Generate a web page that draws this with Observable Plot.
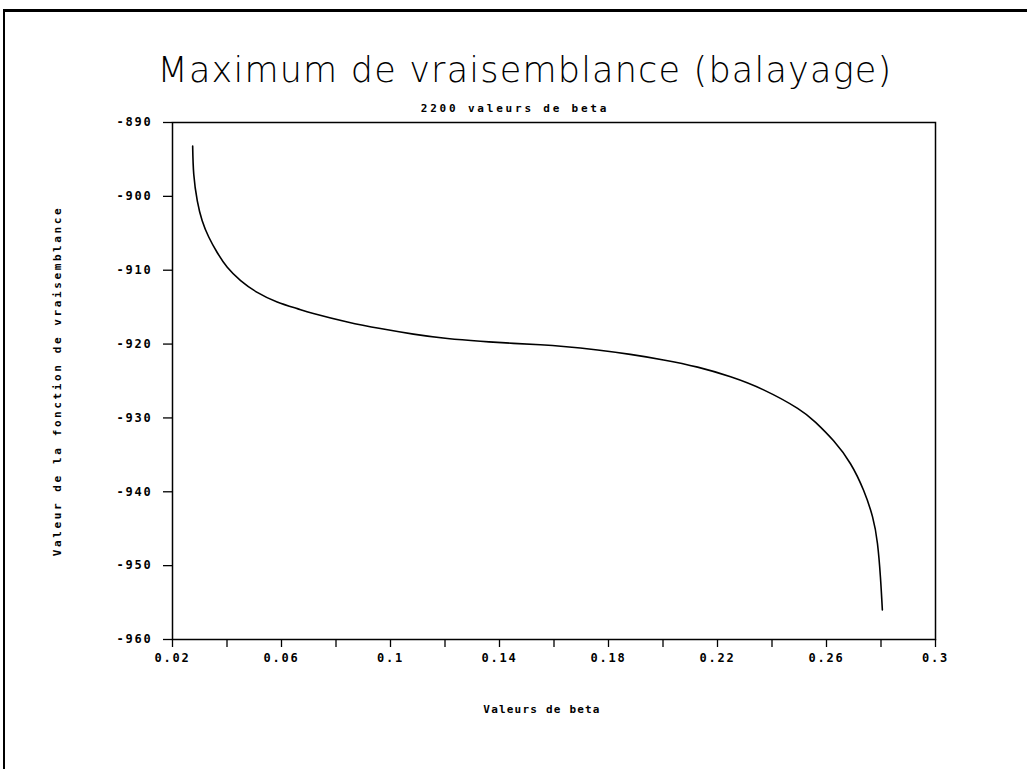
<!DOCTYPE html>
<html>
<head>
<meta charset="utf-8">
<script src="https://cdn.jsdelivr.net/npm/d3@7"></script>
<script src="https://cdn.jsdelivr.net/npm/@observablehq/plot@0.6"></script>
<style>
  html, body { margin: 0; padding: 0; background: #fff; }
  #page { position: relative; width: 1027px; height: 769px; overflow: hidden; background: #fff; }
  #border { position: absolute; left: 3px; top: 9px; width: 1030px; height: 770px; border-top: 3px solid #000; border-left: 2px solid #000; box-sizing: border-box; }
  #title { position: absolute; left: 0; width: 1050px; top: 50px; text-align: center; font-family: "DejaVu Sans", sans-serif; font-weight: 200; font-size: 35px; letter-spacing: 1.2px; color: #000; }
  #subtitle { position: absolute; left: 0; width: 1030px; top: 102px; text-align: center; font-family: "DejaVu Sans Mono", monospace; font-weight: bold; font-size: 11px; letter-spacing: 2.8px; color: #000; }
  #chart { position: absolute; left: 0; top: 0; }
  #chart svg g[aria-label="x-axis tick label"] text,
  #chart svg g[aria-label="y-axis tick label"] text { letter-spacing: 1.8px; }
  #chart svg g.xl text { letter-spacing: 1.2px; }
  #chart svg g.yl text { letter-spacing: 2.6px; }
</style>
</head>
<body>
<div id="page">
  <div id="border"></div>
  <div id="chart"></div>
  <div id="title">Maximum de vraisemblance (balayage)</div>
  <div id="subtitle">2200 valeurs de beta</div>
</div>
<script>
const beta = [0.0274, 0.0278, 0.0291, 0.0309, 0.0333, 0.0364, 0.0401, 0.0450, 0.0511, 0.0584, 0.0658, 0.0717, 0.0842, 0.0963, 0.1084, 0.1209, 0.1330, 0.1451, 0.1550, 0.1635, 0.1760, 0.1880, 0.2002, 0.2127, 0.2248, 0.2369, 0.2494, 0.2560, 0.2626, 0.2688, 0.2736, 0.2769, 0.2787, 0.2798, 0.2805];
const loglik = [-893.2, -897.0, -900.6, -903.3, -905.5, -907.6, -909.6, -911.4, -913.0, -914.3, -915.2, -915.85, -917.0, -917.9, -918.65, -919.25, -919.62, -919.9, -920.1, -920.32, -920.8, -921.4, -922.15, -923.12, -924.43, -926.2, -928.7, -930.6, -933.1, -936.2, -939.8, -943.4, -947.0, -951.6, -956.0];

const xTicks = [0.02, 0.04, 0.06, 0.08, 0.10, 0.12, 0.14, 0.16, 0.18, 0.20, 0.22, 0.24, 0.26, 0.28, 0.30];
const xTickLabels = ["0.02", "", "0.06", "", "0.1", "", "0.14", "", "0.18", "", "0.22", "", "0.26", "", "0.3"];
const yTicks = [-960, -950, -940, -930, -920, -910, -900, -890];
const yTickLabels = ["-960", "-950", "-940", "-930", "-920", "-910", "-900", "-890"];

const xLabel = "Valeurs de beta";
const yLabel = "Valeur de la fonction de vraisemblance";

const data = beta.map((b, i) => ({beta: b, v: loglik[i]}));

const chart = Plot.plot({
  width: 1027,
  height: 769,
  marginLeft: 172,
  marginRight: 92,
  marginTop: 122,
  marginBottom: 130,
  style: {fontFamily: "'DejaVu Sans Mono', monospace", fontSize: "12px", fontWeight: "bold", color: "#000", background: "transparent"},
  x: {domain: [0.02, 0.3]},
  y: {domain: [-960, -890]},
  marks: [
    Plot.frame({stroke: "#000", strokeWidth: 1.5}),
    Plot.axisX({ticks: xTicks, tickFormat: (d, i) => xTickLabels[i], tickSize: 8, tickPadding: 6, label: null, stroke: "#000", strokeWidth: 1.3}),
    Plot.axisY({ticks: yTicks, tickFormat: (d, i) => yTickLabels[i], tickSize: 9, tickPadding: 11, label: null, stroke: "#000", strokeWidth: 1.3}),
    Plot.line(data, {x: "beta", y: "v", stroke: "#000", strokeWidth: 1.6, curve: "natural"}),
    Plot.text([xLabel], {frameAnchor: "bottom", dy: 73, dx: -12, fontSize: 11, className: "xl"}),
    Plot.text([yLabel], {frameAnchor: "left", dx: -115, rotate: -90, textAnchor: "middle", fontSize: 11, className: "yl"})
  ]
});
document.getElementById("chart").appendChild(chart);
</script>
</body>
</html>
